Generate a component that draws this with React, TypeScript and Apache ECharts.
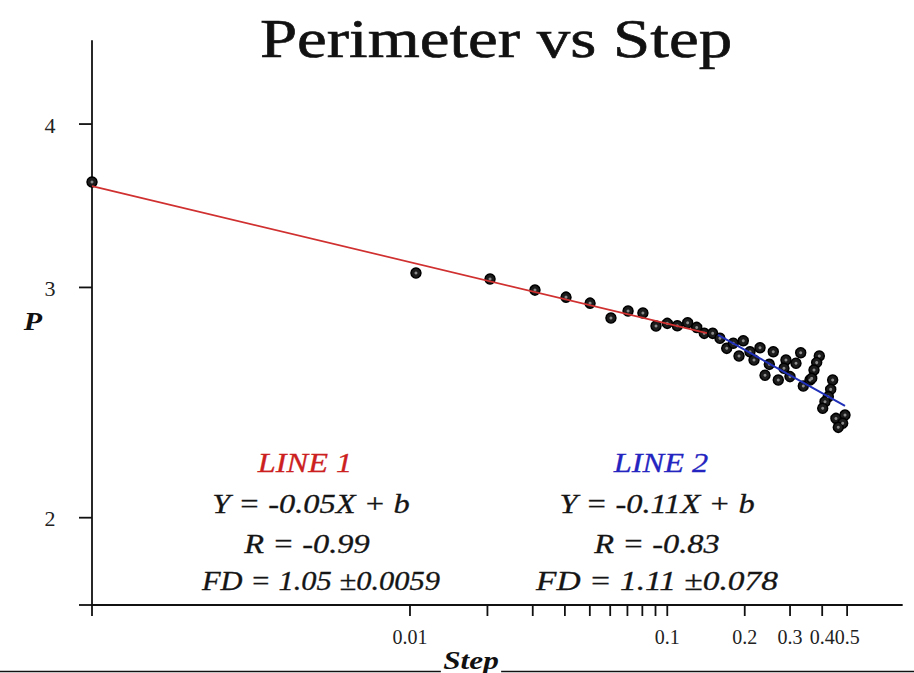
import React, { useEffect, useRef } from "react";
import * as echarts from "echarts";

// Axis extents (log-log)
const X_MIN = 0.000581;
const X_MAX = 0.817;
const Y_MIN = 1.715;
const Y_MAX = 4.63;

// Data points: Step vs Perimeter
const stepValues = [
  0.000581, 0.01055, 0.02047, 0.0306, 0.0404, 0.0501, 0.0604, 0.0704, 0.0804, 0.0904,
  0.1, 0.1094, 0.12, 0.1301, 0.1392, 0.1501, 0.1602, 0.1702, 0.1805, 0.1974,
  0.19, 0.2096, 0.2173, 0.2293, 0.2492, 0.2582, 0.2398, 0.27, 0.2892, 0.2841,
  0.3164, 0.2998, 0.33, 0.3378, 0.3586, 0.3898, 0.3807, 0.3717, 0.3641, 0.4393,
  0.4316, 0.4224, 0.4101, 0.4018, 0.4524, 0.4905, 0.4805, 0.4619,
];
const perimeterValues = [
  3.612, 3.077, 3.045, 2.986, 2.949, 2.918, 2.843, 2.878, 2.868, 2.803,
  2.816, 2.804, 2.819, 2.796, 2.767, 2.767, 2.743, 2.695, 2.719, 2.731,
  2.659, 2.679, 2.64, 2.698, 2.62, 2.679, 2.57, 2.549, 2.64, 2.602,
  2.625, 2.564, 2.674, 2.522, 2.549, 2.659, 2.628, 2.594, 2.556, 2.549,
  2.507, 2.475, 2.453, 2.425, 2.382, 2.396, 2.362, 2.345,
];

// Fit lines (endpoints)
const line1Step = [0.000581, 0.1426];
const line1P = [3.586, 2.768];
const line2Step = [0.1574, 0.4905];
const line2P = [2.759, 2.435];

// Ticks
const xTickValues = [X_MIN, 0.01, 0.02, 0.03, 0.04, 0.05, 0.06, 0.07, 0.08, 0.09, 0.1, 0.2, 0.3, 0.4, 0.5];
const xTickLabels = ["", "0.01", "", "", "", "", "", "", "", "", "0.1", "0.2", "0.3", "0.4", "0.5"];
const yTickValues = [Y_MIN, 2, 3, 4];
const yTickLabels = ["", "2", "3", "4"];

// Annotation texts
const line1Texts = ["LINE 1", "Y = -0.05X + b", "R = -0.99", "FD = 1.05 \u00b10.0059"];
const line2Texts = ["LINE 2", "Y = -0.11X + b", "R = -0.83", "FD = 1.11 \u00b10.078"];

const SERIF = '"Liberation Serif", "Times New Roman", serif';

export default function App() {
  const ref = useRef<HTMLDivElement>(null);

  useEffect(() => {
    if (!ref.current) return;
    const chart = echarts.init(ref.current, undefined, { renderer: "svg" });

    const rowY = [462, 503, 543, 581];
    const l1X = [305, 311, 307, 321];
    const l2X = [661, 657, 657, 657];

    const annot: any[] = [];
    line1Texts.forEach((t, i) => {
      annot.push({
        type: "text",
        x: l1X[i],
        y: rowY[i],
        scaleX: i === 3 ? 1.13 : 1.2,
        style: {
          text: t,
          align: "center",
          verticalAlign: "middle",
          fontFamily: SERIF,
          fontStyle: "italic",
          fontSize: 27,
          fill: i === 0 ? "#cc2020" : "#151515",
          stroke: i === 0 ? "#cc2020" : "#151515",
          lineWidth: 0.3,
        },
      });
    });
    line2Texts.forEach((t, i) => {
      annot.push({
        type: "text",
        x: l2X[i],
        y: rowY[i],
        scaleX: i === 3 ? 1.24 : 1.2,
        style: {
          text: t,
          align: "center",
          verticalAlign: "middle",
          fontFamily: SERIF,
          fontStyle: "italic",
          fontSize: 27,
          fill: i === 0 ? "#2424c0" : "#151515",
          stroke: i === 0 ? "#2424c0" : "#151515",
          lineWidth: 0.3,
        },
      });
    });

    const option: any = {
      animation: false,
      backgroundColor: "#ffffff",
      grid: { left: 92, top: 41, width: 810, height: 564, containLabel: false },
      xAxis: {
        type: "log",
        logBase: 10,
        min: X_MIN,
        max: X_MAX,
        axisLine: { show: true, onZero: false, lineStyle: { color: "#111", width: 1.8 } },
        axisTick: { show: false },
        axisLabel: { show: false },
        splitLine: { show: false },
        minorTick: { show: false },
      },
      yAxis: {
        type: "log",
        logBase: 10,
        min: Y_MIN,
        max: Y_MAX,
        axisLine: { show: true, onZero: false, lineStyle: { color: "#111", width: 1.8 } },
        axisTick: { show: false },
        axisLabel: { show: false },
        splitLine: { show: false },
        minorTick: { show: false },
      },
      series: [
        {
          type: "scatter",
          data: stepValues.map((s, i) => [s, perimeterValues[i]]),
          symbol: "circle",
          symbolSize: 10,
          itemStyle: { color: "#1c1c1c", borderColor: "#000", borderWidth: 1.5, opacity: 1 },
          silent: true,
          z: 2,
        },
        {
          type: "scatter",
          data: stepValues.map((s, i) => [s, perimeterValues[i]]),
          symbol: "circle",
          symbolSize: 3,
          itemStyle: { color: "#8a8a8a", opacity: 1 },
          silent: true,
          z: 3,
        },
        {
          type: "line",
          data: line1Step.map((s, i) => [s, line1P[i]]),
          showSymbol: false,
          symbol: "none",
          lineStyle: { color: "#d03030", width: 1.7 },
          silent: true,
          z: 4,
        },
        {
          type: "line",
          data: line2Step.map((s, i) => [s, line2P[i]]),
          showSymbol: false,
          symbol: "none",
          lineStyle: { color: "#2030b8", width: 2 },
          silent: true,
          z: 4,
        },
        {
          type: "custom",
          clip: false,
          silent: true,
          data: xTickValues.map((v) => [v, Y_MIN]),
          renderItem: (params: any, api: any) => {
            const p = api.coord([api.value(0), Y_MIN]);
            const label = xTickLabels[params.dataIndex];
            const children: any[] = [
              {
                type: "line",
                shape: { x1: p[0], y1: p[1], x2: p[0], y2: p[1] + 11 },
                style: { stroke: "#111", lineWidth: 1.8 },
              },
            ];
            if (label) {
              children.push({
                type: "text",
                x: p[0],
                y: p[1] + 32,
                style: {
                  text: label,
                  align: "center",
                  verticalAlign: "middle",
                  fontFamily: SERIF,
                  fontSize: 20,
                  fill: "#222",
                },
              });
            }
            return { type: "group", children };
          },
        },
        {
          type: "custom",
          clip: false,
          silent: true,
          data: yTickValues.map((v) => [X_MIN, v]),
          renderItem: (params: any, api: any) => {
            const p = api.coord([X_MIN, api.value(1)]);
            const label = yTickLabels[params.dataIndex];
            const children: any[] = [
              {
                type: "line",
                shape: { x1: p[0] - 13, y1: p[1], x2: p[0], y2: p[1] },
                style: { stroke: "#111", lineWidth: 1.8 },
              },
            ];
            if (label) {
              children.push({
                type: "text",
                x: p[0] - 42,
                y: p[1] + 1,
                style: {
                  text: label,
                  align: "center",
                  verticalAlign: "middle",
                  fontFamily: SERIF,
                  fontSize: 22,
                  fill: "#222",
                },
              });
            }
            return { type: "group", children };
          },
        },
      ],
      graphic: [
        {
          type: "text",
          x: 496,
          y: 39,
          scaleX: 1.24,
          style: {
            text: "Perimeter vs Step",
            align: "center",
            verticalAlign: "middle",
            fontFamily: SERIF,
            fontSize: 54,
            fill: "#111",
            stroke: "#111",
            lineWidth: 0.6,
          },
        },
        {
          type: "text",
          x: 33,
          y: 321,
          scaleX: 1.2,
          style: {
            text: "P",
            align: "center",
            verticalAlign: "middle",
            fontFamily: SERIF,
            fontStyle: "italic",
            fontWeight: "bold",
            fontSize: 25,
            fill: "#111",
          },
        },
        {
          type: "line",
          shape: { x1: 0, y1: 671.5, x2: 914, y2: 671.5 },
          style: { stroke: "#111", lineWidth: 1.5 },
          z: 10,
        },
        {
          type: "text",
          x: 471,
          y: 660,
          scaleX: 1.2,
          z: 11,
          style: {
            text: "Step",
            align: "center",
            verticalAlign: "middle",
            fontFamily: SERIF,
            fontStyle: "italic",
            fontWeight: "bold",
            fontSize: 26,
            fill: "#111",
            backgroundColor: "#ffffff",
            padding: [0, 2, 0, 2],
          },
        },
        ...annot,
      ],
    };

    chart.setOption(option);
    return () => chart.dispose();
  }, []);

  return (
    <div
      ref={ref}
      style={{ position: "fixed", left: 0, top: 0, width: 914, height: 673, background: "#fff" }}
    />
  );
}
